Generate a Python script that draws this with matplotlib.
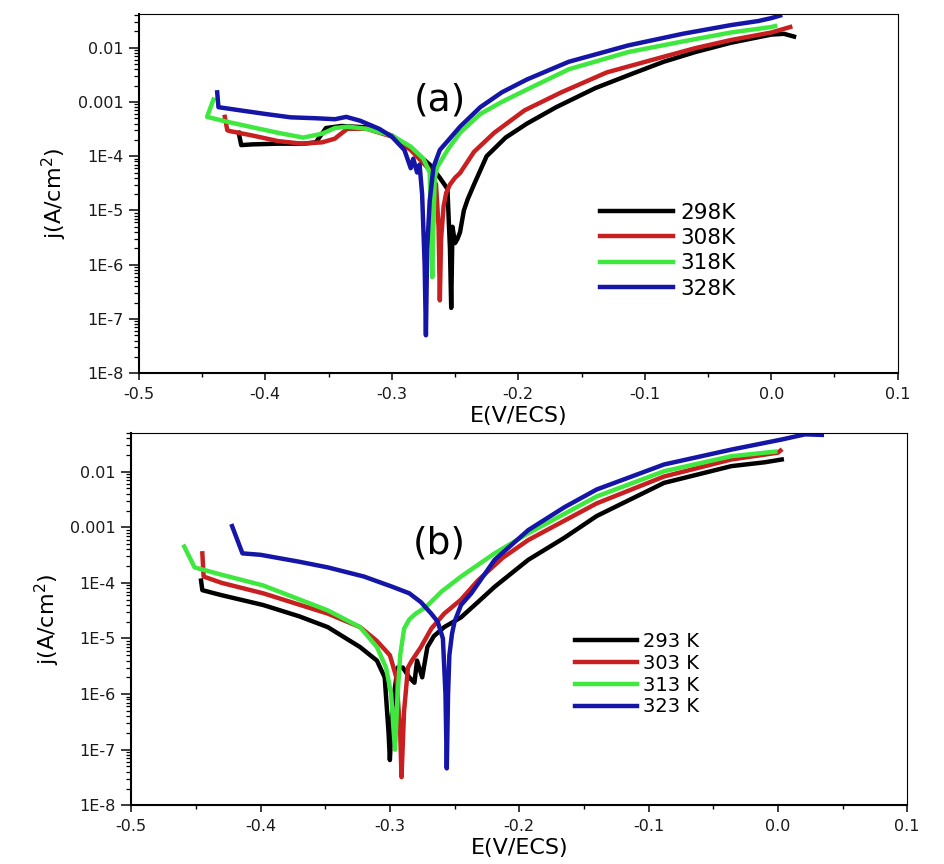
import numpy as np
import matplotlib
matplotlib.use("Agg")
import matplotlib.pyplot as plt
from matplotlib.ticker import LogLocator, NullFormatter

plt.rcParams['font.family'] = ['DejaVu Sans']

# ---- panel (a) ----
E_298 = [-0.421, -0.419, -0.41, -0.39, -0.37, -0.36, -0.352, -0.34, -0.32, -0.30, -0.285, -0.27, -0.262,
         -0.256, -0.254, -0.253, -0.252, -0.250, -0.248, -0.246, -0.243, -0.240, -0.235, -0.225, -0.21,
         -0.193, -0.17, -0.139, -0.11, -0.085, -0.06, -0.032, 0.0, 0.01, 0.018]
j_298 = [2.7e-4, 1.6e-4, 1.65e-4, 1.7e-4, 1.7e-4, 1.8e-4, 3.3e-4, 3.6e-4, 3.4e-4, 2.4e-4, 1.4e-4, 7e-5, 4e-5,
         2.5e-5, 2e-6, 1.6e-7, 5e-6, 2.5e-6, 3e-6, 4e-6, 1e-5, 1.6e-5, 3e-5, 1e-4, 2.2e-4,
         4e-4, 8e-4, 1.8e-3, 3.3e-3, 5.5e-3, 8.3e-3, 0.0123, 0.0174, 0.018, 0.016]

E_308 = [-0.432, -0.430, -0.428, -0.41, -0.39, -0.371, -0.355, -0.345, -0.342, -0.335, -0.32, -0.30, -0.285,
         -0.27, -0.265, -0.263, -0.262, -0.261, -0.259, -0.257, -0.254, -0.250, -0.246, -0.235, -0.219,
         -0.195, -0.166, -0.13, -0.085, -0.06, -0.032, 0.0, 0.015]
j_308 = [5.3e-4, 3e-4, 2.9e-4, 2.4e-4, 1.9e-4, 1.7e-4, 1.8e-4, 2.1e-4, 2.4e-4, 3.2e-4, 3.2e-4, 2.3e-4, 1.3e-4,
         5.6e-5, 3e-5, 5e-6, 2.2e-7, 3e-6, 1.2e-5, 2.1e-5, 3e-5, 4e-5, 4.9e-5, 1.2e-4, 2.7e-4,
         7e-4, 1.5e-3, 3.5e-3, 6.8e-3, 9.8e-3, 0.0138, 0.019, 0.024]

E_318 = [-0.441, -0.446, -0.43, -0.41, -0.39, -0.37, -0.355, -0.345, -0.335, -0.32, -0.30, -0.285, -0.275,
         -0.270, -0.268, -0.267, -0.266, -0.264, -0.260, -0.255, -0.246, -0.23, -0.213, -0.193, -0.16,
         -0.113, -0.07, -0.032, 0.0, 0.003]
j_318 = [1.1e-3, 5.3e-4, 4.3e-4, 3.4e-4, 2.7e-4, 2.2e-4, 2.6e-4, 3.3e-4, 3.5e-4, 3.2e-4, 2.4e-4, 1.5e-4, 9e-5,
         5e-5, 5.9e-7, 6e-6, 4e-5, 6.3e-5, 9e-5, 1.4e-4, 2.7e-4, 6e-4, 1e-3, 1.7e-3, 4e-3,
         8.3e-3, 1.3e-2, 0.019, 0.024, 0.025]

E_328 = [-0.438, -0.437, -0.42, -0.40, -0.38, -0.36, -0.345, -0.336, -0.325, -0.31, -0.30, -0.29, -0.285,
         -0.283, -0.280, -0.278, -0.276, -0.274, -0.273, -0.272, -0.270, -0.267, -0.262, -0.255, -0.246,
         -0.23, -0.213, -0.193, -0.16, -0.113, -0.07, -0.032, -0.01, 0.0, 0.007]
j_328 = [1.5e-3, 8e-4, 7e-4, 6e-4, 5.2e-4, 5e-4, 4.8e-4, 5.3e-4, 4.5e-4, 3.2e-4, 2.3e-4, 1.3e-4, 6e-5,
         9e-5, 5e-5, 7e-5, 2e-5, 1e-6, 5e-8, 2e-6, 1.5e-5, 6.3e-5, 1.3e-4, 2e-4, 3.5e-4,
         8e-4, 1.5e-3, 2.6e-3, 5.5e-3, 0.011, 0.018, 0.026, 0.031, 0.035, 0.039]

# ---- panel (b) ----
E_293 = [-0.446, -0.445, -0.43, -0.398, -0.37, -0.348, -0.323, -0.31, -0.304, -0.301, -0.300, -0.298, -0.294,
         -0.29, -0.285, -0.281, -0.279, -0.275, -0.271, -0.266, -0.258, -0.245, -0.232, -0.219, -0.193,
         -0.165, -0.14, -0.088, -0.036, -0.01, 0.003]
j_293 = [1.1e-4, 7.4e-5, 6e-5, 4e-5, 2.5e-5, 1.6e-5, 7e-6, 4e-6, 2e-6, 2e-7, 6.5e-8, 6e-7, 3e-6,
         3e-6, 2e-6, 1.6e-6, 4e-6, 2e-6, 7e-6, 1.1e-5, 1.6e-5, 2.4e-5, 4.5e-5, 8.5e-5, 2.6e-4,
         6.5e-4, 1.6e-3, 6.3e-3, 0.0126, 0.0148, 0.0166]

E_303 = [-0.445, -0.444, -0.43, -0.398, -0.348, -0.323, -0.31, -0.30, -0.295, -0.292, -0.291, -0.289, -0.286,
         -0.283, -0.276, -0.268, -0.258, -0.245, -0.232, -0.213, -0.193, -0.14, -0.088, -0.036, 0.0, 0.002]
j_303 = [3.4e-4, 1.3e-4, 1e-4, 6.5e-5, 2.8e-5, 1.6e-5, 9e-6, 5e-6, 2e-6, 2e-7, 3.2e-8, 5e-7, 3e-6,
         4e-6, 7e-6, 1.5e-5, 2.8e-5, 5e-5, 1.1e-4, 2.8e-4, 5.9e-4, 2.7e-3, 8.2e-3, 0.0166, 0.022, 0.024]

E_313 = [-0.459, -0.451, -0.43, -0.398, -0.348, -0.323, -0.31, -0.303, -0.299, -0.297, -0.296, -0.294, -0.292,
         -0.289, -0.285, -0.280, -0.272, -0.260, -0.245, -0.219, -0.193, -0.14, -0.088, -0.036, -0.002]
j_313 = [4.5e-4, 1.9e-4, 1.4e-4, 9e-5, 3.2e-5, 1.6e-5, 7e-6, 3e-6, 1e-6, 2e-7, 1e-7, 1e-6, 5e-6,
         1.5e-5, 2.2e-5, 2.8e-5, 3.7e-5, 7e-5, 1.3e-4, 3.4e-4, 7.8e-4, 3.6e-3, 0.0102, 0.019, 0.023]

E_323 = [-0.422, -0.414, -0.40, -0.37, -0.348, -0.32, -0.298, -0.285, -0.276, -0.268, -0.263, -0.259, -0.257,
         -0.256, -0.255, -0.254, -0.252, -0.250, -0.245, -0.237, -0.228, -0.219, -0.193, -0.165, -0.14,
         -0.088, -0.036, 0.003, 0.021, 0.034]
j_323 = [1.05e-3, 3.4e-4, 3.2e-4, 2.4e-4, 1.9e-4, 1.3e-4, 8.5e-5, 6.5e-5, 4.5e-5, 2.8e-5, 2e-5, 1e-5, 1e-6,
         4.6e-8, 1e-6, 5e-6, 1.2e-5, 2e-5, 4e-5, 6.5e-5, 1.3e-4, 2.6e-4, 8.9e-4, 2.3e-3, 4.8e-3,
         0.0135, 0.025, 0.038, 0.047, 0.046]

colors = ['#000000', '#c82020', '#3ee83e', '#1515a8']
labels_a = ['298K', '308K', '318K', '328K']
labels_b = ['293 K', '303 K', '313 K', '323 K']
yticks = [1e-8, 1e-7, 1e-6, 1e-5, 1e-4, 1e-3, 1e-2]
ylabels = ['1E-8', '1E-7', '1E-6', '1E-5', '1E-4', '0.001', '0.01']
xticks = [-0.5, -0.4, -0.3, -0.2, -0.1, 0.0, 0.1]

fig = plt.figure(figsize=(9.44, 8.64), dpi=100)
ax1 = fig.add_axes([0.147, 0.568, 0.804, 0.416])
ax2 = fig.add_axes([0.139, 0.068, 0.822, 0.431])


def style(ax, ytop):
    ax.set_yscale('log')
    ax.set_xlim(-0.5, 0.1)
    ax.set_ylim(1e-8, ytop)
    ax.set_yticks(yticks)
    ax.set_yticklabels(ylabels)
    ax.yaxis.set_minor_locator(LogLocator(base=10, subs=np.arange(2, 10), numticks=100))
    ax.yaxis.set_minor_formatter(NullFormatter())
    ax.set_xticks(xticks)
    ax.set_xticklabels(['%.1f' % v for v in xticks])
    ax.set_xticks([-0.45, -0.35, -0.25, -0.15, -0.05, 0.05], minor=True)
    ax.tick_params(which='major', direction='out', width=1.2, labelsize=11.5, colors='#1a1a1a')
    ax.tick_params(axis='y', which='major', length=7, pad=4)
    ax.tick_params(axis='y', which='minor', direction='out', length=3.5, width=0.9)
    ax.tick_params(axis='x', which='major', length=5, pad=5)
    ax.tick_params(axis='x', which='minor', direction='out', length=3, width=1.0)
    for s in ['left', 'bottom']:
        ax.spines[s].set_linewidth(1.5)
    for s in ['top', 'right']:
        ax.spines[s].set_linewidth(0.8)
    ax.set_xlabel('E(V/ECS)', fontsize=16, labelpad=3)
    ax.set_ylabel('j(A/cm$^2$)', fontsize=16, labelpad=6)


series_a = [(E_298, j_298), (E_308, j_308), (E_318, j_318), (E_328, j_328)]
for (E, j), c, lab in zip(series_a, colors, labels_a):
    ax1.plot(E, j, color=c, lw=3.2, label=lab, solid_joinstyle='round')
style(ax1, 0.042)
ax1.text(0.397, 0.76, '(a)', transform=ax1.transAxes, fontsize=27, ha='center', va='center')
ax1.legend(loc='upper left', bbox_to_anchor=(0.608, 0.475), frameon=False, fontsize=15.5,
           handlelength=3.4, handletextpad=0.3, labelspacing=0.25, borderpad=0, borderaxespad=0)

series_b = [(E_293, j_293), (E_303, j_303), (E_313, j_313), (E_323, j_323)]
for (E, j), c, lab in zip(series_b, colors, labels_b):
    ax2.plot(E, j, color=c, lw=3.2, label=lab, solid_joinstyle='round')
style(ax2, 0.05)
ax2.text(0.397, 0.704, '(b)', transform=ax2.transAxes, fontsize=27, ha='center', va='center')
ax2.legend(loc='upper left', bbox_to_anchor=(0.572, 0.466), frameon=False, fontsize=14,
           handlelength=3.2, handletextpad=0.3, labelspacing=0.15, borderpad=0, borderaxespad=0)

fig.savefig('out.png', dpi=100)
